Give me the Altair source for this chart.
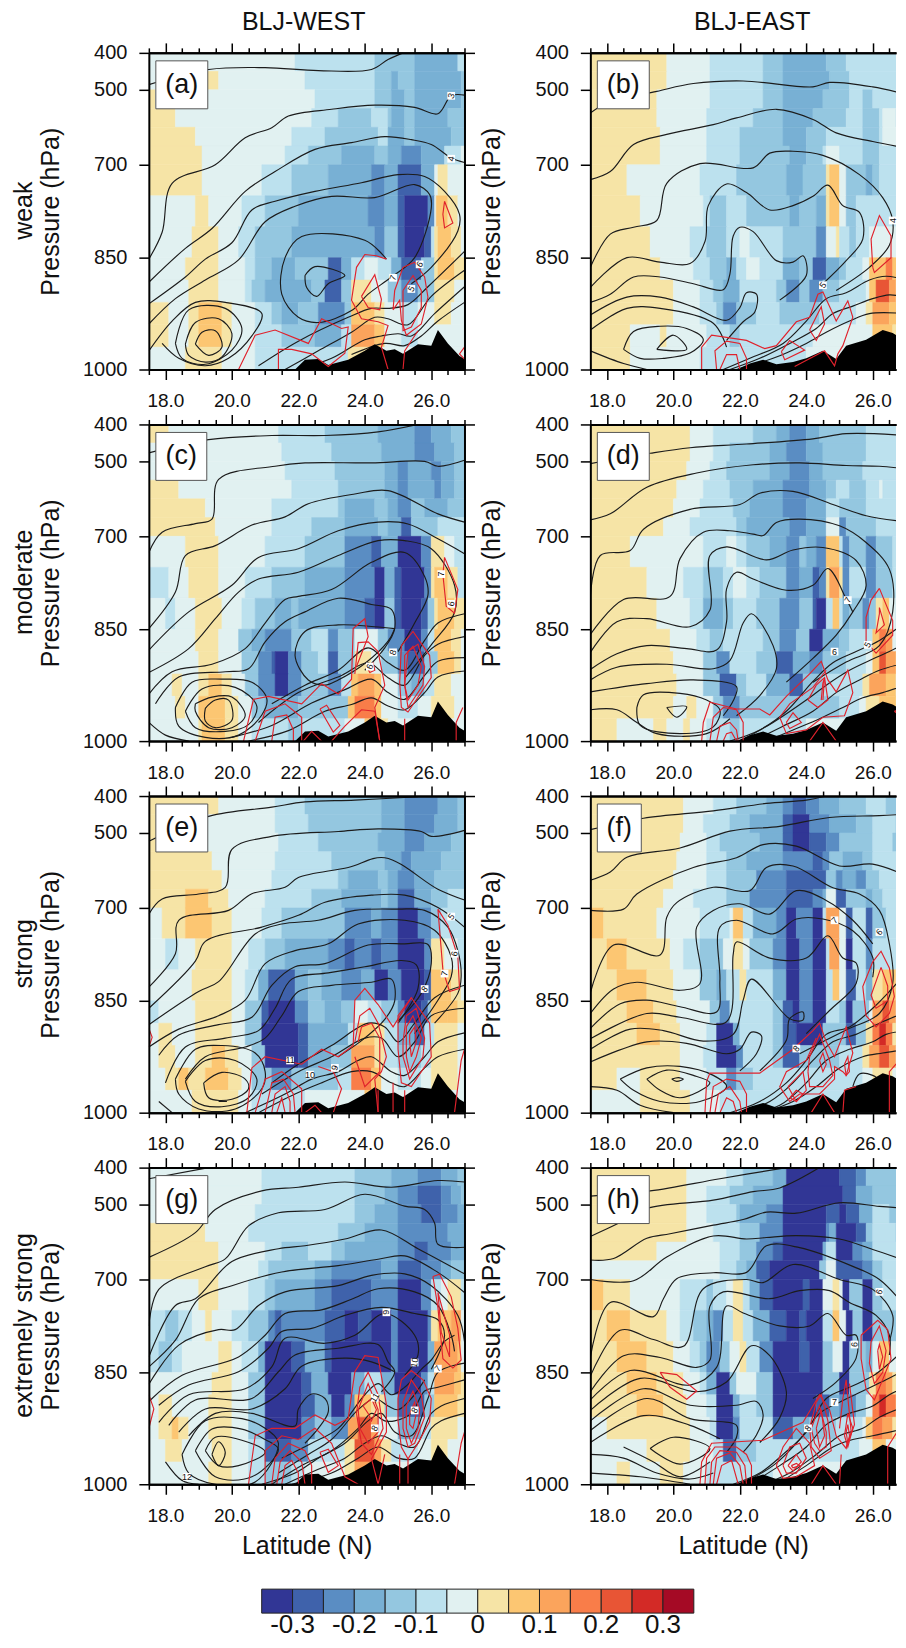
import altair as alt

FONT = "Liberation Sans"
P_EDGES = [400, 450, 500, 550, 600, 650, 700, 750, 800, 850, 880, 910, 940, 970, 1000]
COLORS = ["#313695", "#3f62ab", "#5a8dc3", "#78b0d4", "#94c7e0", "#bce1ee", "#e1f1f1",
          "#f6e4a6", "#fcc672", "#fba45c", "#f97d49", "#e85535", "#d32a26", "#a50a25"]
BINS = list(range(-7, 7))
TICK_P = [400, 500, 700, 850, 1000]
P_PIXELS = [0, 37, 112, 205, 317]
MAJOR = [18, 20, 22, 24, 26]
MINOR = [17.5, 18.5, 19, 19.5, 20.5, 21, 21.5, 22.5, 23, 23.5, 24.5, 25, 25.5, 26.5, 27]
MINOR_E = [17.5, 18.5, 19, 19.5, 20.5, 21, 21.5, 22.5, 23, 23.5, 24.5, 25, 25.5, 26.5]
CB_TICKS = [-0.3, -0.2, -0.1, 0, 0.1, 0.2, 0.3]
CB_LABELS = ["-0.3", "-0.2", "-0.1", "0", "0.1", "0.2", "0.3"]

TERRAIN_W = [21.9,1000,22.2,987,22.6,986,22.9,994,23.5,987,24,975,24.3,966,24.65,975,24.9,973,25.15,979,25.6,966,26,968,26.2,947,26.5,965,26.85,982,27,986]
TERRAIN_E = [21.9,1000,22.3,992,22.7,987,23.1,993,23.6,990,24,985,24.5,975,24.9,986,25.2,968,25.8,960,26.3,947,26.6,951,27,962]

FILL_A = [
[17.5,-1,21.9,-2,24.3,-3,25.5,-4,26.8,-2],
[17.5,-1,19,0,19.6,-1,22.2,-2,24.3,-3,24.8,-4,25,-3,25.5,-4,26.9,-3],
[17.5,0,17.7,-1,22.5,-2,24.3,-3,24.8,-4,25.2,-3,25.5,-4,26.9,-3],
[17.5,0,18.3,-1,22.4,-2,23.2,-3,24.2,-2,24.7,-3,24.8,-4,25.2,-3,25.5,-4,26.5,-3],
[17.5,0,18.9,-1,21.8,-2,22.8,-3,24.4,-2,24.7,-4,25.2,-3,25.5,-4,26.6,-3],
[17.5,0,19.1,-1,21.6,-2,22.3,-3,23.3,-4,24.3,-3,24.7,-4,25.1,-5,25.7,-4,26.4,-2,26.9,-1],
[17.5,0,19.1,-1,20.9,-2,21.8,-3,22.9,-4,24.2,-5,24.6,-4,25,-6,25.7,-4,26.1,-1,26.2,0,26.5,-1],
[17.5,-1,18.9,0,19.3,-1,20.3,-2,21,-3,22,-4,24.1,-5,24.6,-4,25,-6,25.2,-7,25.9,-5,26.1,-1,26.15,1,26.5,0,26.8,-1],
[17.5,-1,18.8,0,19.6,-1,20.2,-2,20.7,-3,21.8,-4,24.3,-5,24.6,-3,25,-6,25.2,-7,25.8,-6,26,-2,26.1,0,26.2,1,26.6,0,26.9,-1],
[17.5,-1,18.6,0,19.6,-1,20.4,-2,20.7,-3,21.2,-4,21.9,-3,22.9,-6,23.3,-4,23.6,-2,24,-1,24.4,-2,24.8,-4,25.1,-6,25.7,-3,26.1,0,26.2,1,26.7,0],
[17.5,-1,18.7,0,19.6,-1,20.4,-2,20.6,-3,21,-4,22.4,-3,22.8,-6,23.3,-3,23.6,0,24.2,-1,24.7,-3,25.1,-5,25.6,-3,26.1,0,26.7,-1],
[17.5,0,18.1,-1,18.7,0,19,1,19.7,0,20,-1,20.7,-2,21.2,-3,21.5,-4,22,-3,22.6,-5,23.4,-3,23.6,1,24.3,0,24.6,-1,25.1,-2,25.6,-1,26.1,0,26.6,-1],
[17.5,0,18.1,-1,18.7,0,19,1,19.7,0,20,-1,20.7,-2,21.5,-3,22.5,-4,23.3,-2,23.6,2,24.3,1,24.6,-1,25.1,-2,25.6,-1,27,-1],
[17.5,-1,18.6,0,19.7,-1,20.7,-2,22.5,-2,23.5,0,24.2,1,24.4,-1,27,-1],
]
FILL_B = [
[17.5,0,19.8,-1,21.1,-2,22.7,-3,23.3,-4,24.6,-3,25.2,-2],
[17.5,0,19.8,-1,21.1,-2,22.7,-3,23.3,-4,24.7,-3,25.3,-2],
[17.5,0,19.5,-1,21.1,-2,22.7,-3,23.3,-4,24.5,-3,25.3,-2,25.7,-3,26,-2],
[17.5,0,19.5,-1,21,-2,22.4,-3,23.3,-4,24.2,-3,25.2,-2,25.7,-3,26.2,-2,26.3,-1,26.7,-2],
[17.5,0,19.6,-1,21,-2,22,-3,23.3,-4,24,-3,24.6,-2,25.7,-3,26.2,-2,26.3,-1,27,-2],
[17.5,0,19.6,-1,21,-2,22,-3,23.5,-4,24,-3,24.5,-2,24.6,-1,25,-2,25.7,-3,26.2,-2],
[17.5,0,18.6,-1,20.8,-2,21.9,-3,23.4,-4,23.9,-3,24.6,0,24.7,1,25,-1,25.2,-3,25.8,-4,26,-3,26.2,-2],
[17.5,0,19,-1,20.9,-2,21.1,-3,21.6,-2,22.2,-3,23.5,-4,23.8,-3,24.3,-4,24.6,0,24.7,1,25,-1,25.2,-3,25.5,-2],
[17.5,0,19.3,-1,20.5,-2,21,-3,21.6,-2,22,-1,22.3,-2,23.3,-3,24.3,-5,24.6,-1,24.9,0,25,-2,25.3,-3,25.5,-2,25.9,-1],
[17.5,0,19.6,-1,20.6,-2,21.1,-3,21.6,-4,21.9,-2,22.2,-1,22.6,-2,23.3,-4,23.8,-3,24.2,-6,24.6,-4,25,-3,25.2,-2,25.7,-1,25.9,1,26.4,3,26.6,1,26.8,-1],
[17.5,0,20,-1,20.8,-2,21.2,-3,21.5,-4,22,-2,23.1,-3,23.4,-5,23.8,-3,24.1,-5,24.5,-3,25,-2,25.8,-1,25.9,1,26.1,4,26.5,2,26.7,0],
[17.5,0,20,-1,20.8,-2,21.3,-3,21.5,-5,21.9,-3,22.5,-2,23.2,-3,24.4,-2,25.5,-1,25.8,0,26,2,26.5,1,26.8,0],
[17.5,0,18.7,-1,19.6,0,19.8,-1,21,-2,21.7,-3,22,-2,24.2,-1,26,1,26.6,0],
[17.5,0,18.7,-1,20.8,-2,22,-2,24,-1,27,-1],
]
FILL_C = [
[17.5,0,18.1,-1,21.4,-2,22.8,-3,24.4,-4,25.5,-5,26,-4,26.6,-3],
[17.5,-1,21.5,-2,23,-3,24.5,-4,25.5,-5,26.1,-4,26.7,-3],
[17.5,-1,21.6,-2,23.1,-3,24.6,-4,25,-5,25.3,-4,26,-5,26.3,-4,26.7,-3],
[17.5,0,18.4,-1,21.8,-2,23.2,-3,24.6,-4,25,-5,25.3,-4,26.1,-5,26.3,-4,26.7,-3],
[17.5,0,19.2,-1,21.2,-2,23.2,-3,23.4,-4,24.3,-3,24.7,-4,25,-5,25.4,-3,25.8,-4,26.5,-3],
[17.5,0,19.5,-1,21.2,-2,22.4,-3,23.4,-4,24.4,-3,24.7,-4,25.1,-6,25.4,-3,26.2,-2],
[17.5,-1,18.6,0,19.6,-1,21,-2,22.2,-3,23.4,-5,24.2,-6,24.5,-4,25,-7,25.7,-5,26,0,26.4,-1,26.7,-2],
[17.5,-2,18.1,-1,18.7,0,19.6,-1,20.4,-2,21.2,-3,22.2,-4,23.4,-5,24.3,-7,24.6,-4,24.9,-6,25.1,-7,25.8,-5,26,0,26.1,1,26.5,0,26.8,-2],
[17.5,-1,18,-2,18.3,-1,18.9,0,19.7,-1,20.3,-2,20.7,-3,21.3,-4,21.8,-3,22,-4,23.4,-5,24,-6,24.3,-7,24.6,-3,24.9,-6,25.1,-7,25.7,-6,25.9,-3,26.1,0,26.2,1,26.7,0],
[17.5,-1,18.9,0,19.6,-1,20.2,-3,20.6,-4,21,-5,21.8,-3,22.4,-2,22.9,-5,23.2,-3,23.7,-1,24.4,-3,24.7,-5,25.2,-7,25.7,-5,25.9,-2,26.1,1,26.6,0,26.9,-1],
[17.5,-1,19,0,19.6,-1,20.3,-3,20.8,-5,21.2,-6,21.3,-7,21.7,-5,22.1,-3,22.6,-2,22.9,-6,23.2,-3,23.7,0,24.2,-1,24.5,-3,25,-5,25.3,-6,25.8,-3,26.2,1,26.7,0,26.9,-1],
[17.5,-1,18.2,0,18.5,-1,19,0,19.3,1,19.7,0,20,-1,20.4,-3,20.8,-5,21.3,-7,21.7,-5,22.1,-3,22.9,-5,23.3,-2,23.6,1,23.8,2,24.3,1,24.5,-1,25,-3,25.4,-4,25.8,-2,26.1,0,26.6,-1],
[17.5,-1,18.3,0,18.6,-1,19,1,19.8,0,20.2,-1,20.6,-3,21,-4,22,-3,23.5,1,23.7,3,24.3,1,24.5,-1,25,-2,25.6,-1,26,0,26.7,-1],
[17.5,-1,19,0,19.1,1,19.8,0,20.2,-1,20.6,-2,21.7,-3,22.1,-2,23.4,-1,24,1,24.4,0,24.7,-1,27,-1],
]
FILL_D = [
[17.5,0,20.5,-1,21.2,-2,22.4,-3,23.1,-4,23.5,-5,24,-4,24.4,-3,25.8,-2],
[17.5,0,20.5,-1,21.2,-2,21.7,-3,22.9,-4,23.4,-5,24,-4,24.5,-3,25.8,-2],
[17.5,0,20.4,-1,21.1,-2,21.6,-3,22.9,-4,23.5,-5,24.1,-4,24.5,-3,25.7,-2],
[17.5,0,20.1,-1,20.9,-2,21.7,-3,22.4,-4,23.3,-5,24.1,-4,24.6,-3,24.9,-2,25.3,-3,25.8,-2,26.2,-1,26.3,-2],
[17.5,0,20,-1,20.8,-2,21.8,-3,22.3,-4,23.3,-5,24,-4,24.6,-2,25,-3,25.8,-2],
[17.5,0,19.7,-1,20.5,-2,21.9,-3,22.2,-4,23.5,-5,24,-4,24.6,-1,25,-5,25.2,-3,26.1,-2],
[17.5,0,18.7,-1,20.9,-2,21.6,-1,21.9,-2,22.2,-3,22.9,-4,23.4,-5,23.8,-3,24,-4,24.3,-5,24.6,1,25,-2,25.1,-5,25.3,-3,25.8,-5,26.1,-3,26.6,-2],
[17.5,0,19.2,-1,20.3,-2,20.9,-3,21.5,-2,21.8,-1,22.2,-2,22.6,-3,23.4,-5,23.8,-4,24.2,-6,24.4,-5,24.6,0,24.7,2,25,0,25.1,-5,25.3,-2,25.8,-5,26.1,-3,26.6,-2],
[17.5,0,19.5,-1,20.5,-2,20.9,-4,21.5,-3,21.8,-2,22.5,-3,23.2,-5,23.8,-3,24.2,-6,24.3,-7,24.6,-2,24.8,1,25,-2,25.1,-4,25.3,-3,25.7,-5,25.9,-3,26.1,0,26.3,1,26.5,-1,26.7,-2],
[17.5,0,19.9,-1,20.7,-2,21.1,-3,21.5,-2,22.7,-3,23.2,-5,23.7,-3,24.1,-7,24.5,-4,25,-3,25.3,-2,26,1,26.2,3,26.4,2,26.6,-1],
[17.5,0,20,-1,20.9,-3,21.3,-5,21.7,-2,22.5,-3,23.1,-6,23.6,-4,24.1,-5,24.5,-3,25.2,-2,25.8,-1,26,1,26.2,4,26.4,2,26.7,0],
[17.5,0,20.1,-1,20.9,-3,21.4,-6,21.9,-3,22.2,-2,22.8,-4,23.5,-6,23.9,-3,24.5,-2,25.7,0,25.9,2,26.4,1,26.7,-1],
[17.5,0,20,-1,20.4,0,20.7,-1,21.2,-3,21.5,-5,22,-3,25,-2,25.6,-1,25.8,0,26.2,1,26.7,0,27,-1],
[17.5,0,18.3,-1,19.4,0,19.8,-1,20.3,0,20.5,-1,21,-2,21.7,-3,22,-2,24,-1,27,-1],
]
FILL_E = [
[17.5,0,19.6,-1,21.3,-2,22.2,-3,24.5,-4,25.2,-5,26.2,-4,26.8,-3],
[17.5,0,18.5,-1,21.3,-2,22.3,-3,24.5,-4,25.2,-5,26.1,-4,26.8,-3],
[17.5,0,18.5,-1,21.4,-2,22.6,-3,24.4,-4,25.2,-5,25.8,-4,26.6,-3],
[17.5,0,19.4,-1,21.3,-2,23,-3,24.6,-4,25.1,-5,25.4,-4,26.3,-3],
[17.5,0,19.7,-1,21.2,-2,23.2,-3,23.5,-4,24.4,-3,24.7,-4,25,-5,25.5,-4,26.1,-3],
[17.5,0,18.6,1,19.3,0,19.9,-1,21,-2,22.4,-3,23.3,-4,24.5,-3,24.7,-4,25,-6,25.5,-4,26,-3,26.5,-2],
[17.5,-1,17.9,0,18.6,1,19.4,0,20,-1,20.9,-2,21.5,-3,23.4,-5,24.2,-4,24.5,-5,25,-7,25.6,-5,26,-3,26.3,-2],
[17.5,-1,18,-2,18.4,-1,18.9,0,20,-1,20.5,-2,21,-3,21.6,-4,22.9,-5,23.4,-6,23.7,-5,24.2,-6,24.5,-5,25,-7,25.8,-5,26,0,26.4,-1,26.8,-2],
[17.5,-1,18.8,0,20,-1,20.4,-2,20.8,-4,21.1,-6,21.9,-4,22.3,-3,22.7,-4,23.3,-5,23.9,-4,24.3,-7,24.7,-5,25.1,-7,25.8,-6,26,1,26.6,0,26.9,-1],
[17.5,-2,17.8,-1,18.9,0,20,-1,20.4,-3,20.9,-6,21.1,-7,21.9,-5,22.3,-3,22.8,-4,23.3,-3,23.7,-1,24.1,-2,24.5,-3,25,-5,25.2,-7,25.7,-6,25.9,-3,26,1,26.5,1,26.8,0],
[17.5,-1,17.8,0,18.2,-1,18.9,0,20,-1,20.4,-3,20.9,-7,22,-6,22.3,-4,23.5,-2,23.8,1,24.3,0,24.6,-2,25,-4,25.5,-6,25.8,-2,26.1,0,26.8,-1],
[17.5,-1,17.8,0,18.3,-1,18.9,0,19.4,1,19.8,0,20.2,-1,20.6,-3,21,-7,22,-6,22.3,-4,23,-3,23.6,2,24.3,0,24.6,-2,25,-3,25.7,-2,26,0,26.8,-1],
[17.5,-1,18,0,18.4,1,18.7,0,19.2,1,19.9,0,20.3,-1,20.6,-3,21.2,-5,21.8,-3,23.2,-2,23.6,3,24.2,1,24.5,-1,25,-2,25.7,-1,26,0,26.8,-1],
[17.5,-1,18.8,0,20.2,-1,20.6,-2,22.2,-1,24,1,24.4,-1,27,-1],
]
FILL_F = [
[17.5,0,20.3,-1,21.2,-2,21.9,-3,22.8,-4,23.3,-5,23.6,-6,24,-5,24.4,-4,25,-3,25.8,-2,26.4,-3],
[17.5,0,20.3,-1,20.9,-2,21.7,-3,22.3,-4,23.3,-6,23.6,-7,24.1,-5,24.7,-4,25.5,-3,26,-2,26.7,-3],
[17.5,0,20.2,-1,21,-2,21.4,-3,22.6,-4,23.3,-6,23.6,-7,24.1,-6,24.6,-5,25,-3,26,-2,26.6,-3],
[17.5,0,20.1,-1,21,-2,21.6,-3,22.2,-4,23.3,-5,24.2,-6,24.5,-5,24.7,-3,25.1,-4,25.7,-3,26,-2],
[17.5,0,20,-1,21,-2,21.6,-3,22.5,-5,23.4,-6,24.6,-3,24.9,-5,25.1,-4,25.5,-5,25.8,-3,26.2,-2],
[17.5,0,19.7,-1,20.6,-2,21.6,-3,22.3,-5,23.4,-6,24.2,-5,24.5,-4,24.6,-1,24.9,-6,25.2,-3,25.8,-4,26,-3,26.3,-2],
[17.5,1,17.9,0,19.5,-1,20.8,-2,21.7,-1,21.8,1,22.1,-2,22.4,-4,23.1,-5,23.4,-7,23.7,-5,24.2,-7,24.5,-2,24.6,2,25,-1,25.2,-6,25.4,-2,25.8,-6,26,-3,26.4,-2],
[17.5,0,18,1,18.6,0,19.9,-1,20.3,-2,20.8,-3,21.5,-1,21.8,0,22.1,-1,22.3,-3,23,-5,23.4,-7,23.8,-5,24.2,-7,24.6,-2,24.7,2,25,-1,25.2,-7,25.4,-2,25.8,-5,26,-2],
[17.5,0,18.3,1,19.2,0,20,-1,20.8,-3,21.3,-4,21.6,-2,22,0,22.2,-2,23,-4,23.4,-7,23.8,-5,24.2,-7,24.6,-2,24.8,1,25,-1,25.2,-6,25.5,-2,25.8,-4,26,0,26.3,1,26.7,-1],
[17.5,0,18.6,1,19.4,0,20.1,-1,21.1,-3,21.4,-5,21.7,-2,23,-3,23.3,-6,23.6,-7,23.8,-5,24.2,-7,24.6,-2,25,-3,25.2,-7,25.4,-3,25.9,-1,26,2,26.3,4,26.5,2,26.7,-1],
[17.5,0,18.9,1,19.6,0,20.2,-1,21,-2,21.3,-7,21.8,-4,22,-2,23,-3,23.3,-6,23.7,-7,24.5,-3,25.2,-6,25.5,-3,25.8,0,26,3,26.2,5,26.4,3,26.6,0,27,-1],
[17.5,0,20.2,-1,20.9,-2,21.3,-7,21.9,-5,22.1,-2,23,-3,23.3,-6,23.8,-3,25,-2,25.7,0,25.9,2,26.2,4,26.5,2,26.7,-1],
[17.5,0,18.3,-1,19,0,20.2,-1,21,-2,21.6,-5,21.9,-3,22.4,-2,25.7,-1,26,0,26.6,-1],
[17.5,-1,19,0,20.5,-1,21.4,-2,22,-2,27,-1],
]
FILL_G = [
[17.5,-1,20.9,-2,23.7,-3,24.8,-4,25.6,-5,26.3,-4,26.8,-3],
[17.5,-1,20.9,-2,23.7,-3,24.6,-4,25,-5,25.6,-6,26.3,-5,26.6,-4,26.9,-3],
[17.5,-1,20.7,-2,23.7,-3,24.3,-4,25,-5,25.7,-6,26.3,-5,26.8,-4],
[17.5,0,19.2,-1,20.5,-2,23.2,-3,24,-4,25,-5,26.5,-4],
[17.5,0,19.6,-1,21,-2,21.5,-3,22.3,-2,23,-3,23.4,-4,25,-5,25.5,-6,25.9,-5,26.6,-4],
[17.5,0,19.6,-1,20.8,-2,21.1,-3,22.5,-4,23,-5,24.5,-4,25,-6,25.7,-5,26.3,-4,26.6,-3],
[17.5,-1,19,0,19.6,-1,20.5,-2,21,-3,21.3,-4,22.5,-5,23,-6,24.2,-5,25,-7,25.7,-5,26,-2,26.3,-1,26.5,0,26.9,-2],
[17.5,-2,18,-3,18.4,-2,18.8,-1,19.2,0,19.4,-1,20,-2,20.5,-3,21.1,-5,21.3,-6,21.5,-5,22.8,-6,23.4,-7,23.8,-6,24.2,-7,24.8,-5,25,-7,25.9,-5,26,0,26.2,1,26.6,2,26.9,-1],
[17.5,-2,17.8,-3,18.2,-2,18.5,-1,19.6,0,20,-1,20.3,-2,20.8,-4,21,-7,21.8,-6,22.2,-4,22.8,-6,23,-7,24.8,-5,25,-7,25.9,-4,26.1,2,26.8,1,26.9,-1],
[17.5,-1,19.4,0,20,-1,20.5,-3,21,-7,22.1,-6,22.4,-4,22.9,-7,23.6,-4,24,-2,24.5,-4,24.9,-7,25.7,-5,25.9,-2,26.1,2,26.7,1,26.9,0],
[17.5,-1,17.8,0,18.2,-1,19.3,0,20,-1,20.5,-3,21,-7,22.1,-6,22.5,-4,23,-7,23.4,-5,23.7,1,24.2,0,24.6,-3,25,-6,25.8,-3,26.1,1,26.8,0],
[17.5,-1,17.8,0,18.2,1,18.4,0,18.7,-1,19.3,0,20,-1,20.5,-3,21,-7,22.1,-5,22.5,-3,23,-5,23.5,2,23.8,4,24.2,2,24.4,-1,25,-4,25.7,-2,26,0,26.8,-1],
[17.5,-1,18,0,18.5,-1,19.4,0,20,-1,20.5,-2,21,-6,21.8,-5,22.3,-2,23.4,0,23.7,4,24.3,2,24.5,0,24.8,-2,25.6,-1,26,0,26.5,-1],
[17.5,-1,19.3,0,20,-1,20.5,-2,21,-3,21.8,-2,22.2,-1,23.4,0,23.7,2,24.3,0,24.5,-1,27,-1],
]
FILL_H = [
[17.5,0,20.4,-1,21.6,-2,22.1,-3,23,-4,23.4,-7,25,-6,25.5,-5,25.8,-3],
[17.5,0,20.4,-1,21,-2,21.7,-3,22.4,-4,23.3,-7,25.1,-6,25.5,-4,26,-3],
[17.5,0,20.4,-1,21,-2,21.9,-3,22,-4,22.8,-5,23.3,-7,24.6,-6,25,-7,25.2,-6,25.6,-4,26,-2,26.5,-3],
[17.5,0,20.4,-1,21.2,-2,22,-3,22.6,-5,23.3,-7,24.6,-5,24.7,-4,24.9,-7,25.5,-6,25.8,-3,26,-2,26.7,-3],
[17.5,0,19.5,-1,21.4,-2,22,-3,22.5,-5,23,-6,23.3,-7,24.5,-4,24.6,-2,24.9,-7,25.4,-5,25.7,-4,26,-2],
[17.5,-1,21.4,-2,21.9,-3,22.2,-4,22.5,-6,22.9,-7,24.4,-3,24.6,-1,24.9,-6,25.7,-5,26,-3,26.3,-2],
[17.5,1,17.9,0,18.7,-1,20.2,-2,21,-3,21.2,-2,21.6,-1,21.8,0,22.1,-2,22.3,-4,22.6,-6,23,-7,23.9,-6,24.1,-7,24.5,-1,24.8,0,25,-1,25.1,-7,25.3,-3,25.7,-7,26,-3,26.3,-2],
[17.5,0,18,1,18.7,0,19.8,-1,20.2,-2,20.6,-3,21,-4,21.2,-5,21.5,-2,21.8,0,22.1,-2,22.4,-4,22.9,-6,23.4,-7,23.8,-6,24,-7,24.5,-2,24.8,1,25,-1,25.2,-7,25.4,-3,25.7,-7,26,-3],
[17.5,0,18.3,1,19.2,0,20,-1,20.5,-2,20.8,-3,21,-5,21.4,-3,21.7,-1,22,0,22.2,-2,22.6,-5,23,-7,23.8,-6,24.1,-7,24.5,-3,24.8,-1,25.1,-7,25.3,-3,25.8,-4,26,-1,26.2,1,26.5,-1],
[17.5,0,18.6,1,19.5,0,20.3,-1,20.8,-2,21,-4,21.3,-7,21.7,-3,21.9,-1,22.5,-3,23,-7,24.5,-3,25,-7,25.3,-3,25.9,0,26.1,3,26.4,2,26.6,0,26.8,-1],
[17.5,0,18.9,1,19.7,0,20.4,-1,21,-2,21.3,-7,21.8,-4,22,-2,22.5,-3,23,-7,24.3,-6,24.7,-4,25,-5,25.5,-3,25.8,-1,26,3,26.2,5,26.4,3,26.7,0],
[17.5,-1,18,0,20.5,-1,21.1,-2,21.3,-7,21.8,-5,22,-2,23,-6,23.6,-4,24.1,-3,24.9,-2,25.7,-1,25.8,1,26,3,26.3,2,26.6,0,27,-1],
[17.5,-1,19.2,0,20.5,-1,21.2,-2,21.5,-6,21.9,-3,22.5,-2,25.6,-1,26,1,26.4,-1],
[17.5,-1,18.3,0,18.7,-1,19.6,0,20.3,-1,21,-2,23,-1,27,-1],
]

LINES_A = [
[17.5,486,19.3,445,21,440,22.6,448,24.2,445,24.7,418,25.15,400],
[27,514,26.6,516,26.2,564,25.5,547,24.3,541,23,552,21.7,570,21.2,601,20.4,628,19.5,700,18.2,730,17.9,809,17.5,852],
[27,694,26.6,682,26,646,25.4,633,24.6,625,23.6,641,22.5,659,21.3,711,20.4,743,19.4,803,18.6,835,17.5,883],
[17.5,912,18.6,876,19.2,852,20,826,20.6,773,21.3,759,22.5,743,23.9,729,25,716,25.8,719,26.4,743,26.85,780,26.8,807,26,863,25.4,885],
[17.5,939,18.3,905,19.2,880,20.2,853,21,792,21.9,767,23,751,24.3,753,25.5,732,25.95,748,26,770,25.5,850,24.8,876,24.1,899,23.6,921,22.6,937,22,930,21.5,899,21.6,850,22.1,816,24,822,24.65,852],
[22.2,874,22.5,862,23.4,874,22.9,885,22.55,902,22.25,890,22.2,874],
[17.5,975,18.2,935,18.9,910,19.8,910,20.9,925,20.6,955,19.9,985,19.2,995,18.4,985,17.9,965],
[18.3,965,18.7,920,19.8,918,20.3,945,20,974,19.2,993,18.5,985,18.3,965],
[18.6,966,18.9,937,19.6,932,20,952,19.7,983,19.2,990,18.7,981,18.6,966],
[18.9,966,19.1,950,19.5,948,19.7,970,19.3,981,18.9,966],
[20.8,995,22,962,23.5,930,24.2,918,24.7,918,25.3,913,25.9,889,27,840],
[21.6,1000,22.6,975,23.6,950,24.3,930,24.7,932,25.3,940,26,902,27,867],
[22,1000,23,985,24,960,24.5,955,25,952,25.4,955,26.1,925,27,889],
[23.6,980,24.6,965,25.2,968,25.7,955,26.2,935,27,910],
]
RED_A = [
[20.2,1000,20.7,954,21.3,947,22.3,965,22.7,932,23.3,945,23.5,943,23.4,978,22.9,996,22.4,979,21.8,973,21.4,973,21.4,1000],
[24.65,852,24.35,847,24,845,23.75,863,23.6,907,23.9,932,24.4,936,24.7,941,24.5,970,24.7,1000],
[23.9,902,24.3,873,24.5,906,24.45,920,24.1,917,23.9,902],
[24.85,920,24.9,894,25.15,863,25.5,856,25.8,876,25.9,903,25.7,939,25.25,954,25.1,934,25.05,907,24.85,920],
[25.15,894,25.45,874,25.7,894,25.7,917,25.4,943,25.15,948,25.15,894],
[25.15,1000,25.2,975,25.6,948],
[26.4,759,26.65,794,26.4,802,26.35,780,26.4,759],
[27,970,26.85,979,27,986],
]
LINES_B = [
[17.5,562,18,535,19.5,504,20.6,483,22.1,476,24.2,492,24.7,480,26,492,27,512],
[17.5,724,18.1,711,18.8,646,19.8,619,21.2,593,21.9,575,23.1,552,24.2,579,24.9,615,26,638,27,655],
[17.5,863,18.1,812,18.8,801,19.5,790,19.8,730,20.8,697,22.4,705,22.9,669,23.6,664,24.5,675,25.6,716,26.3,753,26.6,790,26.5,830,25.9,863,24.9,894],
[17.5,890,18.6,850,19.6,856,20.5,858,20.95,824,21.05,766,21.6,731,22.2,745,22.9,773,23.6,766,24.2,751,24.65,733,25.1,766,25.6,777,25.7,820,25.2,854,24.5,885],
[17.5,910,18.1,899,18.8,876,19.6,876,20.6,885,21.5,893,21.7,872,21.8,815,22,801,22.4,808,23.1,854,23.6,856,23.9,847,24,874,23.2,907],
[17.5,927,18.6,903,19.6,903,20.6,916,21.6,934,22,917,22.2,897,22.5,899,22.45,923,22.1,936,21.6,961],
[17.5,947,18.6,918,19.6,918,21.2,938,21.6,970],
[18.5,973,18.8,949,19.6,942,20.4,945,20.9,960,20.5,978,19.7,985,19,985,18.5,973],
[19.5,973,20,954,20.4,973,19.5,973],
[17.5,975,18.5,992,19.2,1000],
[21.5,1000,22.3,985,23.3,965,24,935,24.6,905,25.2,897,25.9,880,26.4,875,27,880],
[21.7,1000,22.6,985,23.5,965,24.3,945,24.8,925,25.4,915,26,905,26.5,900,27,903],
[21.9,1000,23,985,24,965,24.6,950,25.3,935,25.9,925,27,925],
]
RED_B = [
[20.85,1000,20.85,970,21.15,954,22.2,961,22.75,972,23.1,968,23.7,936,24.1,930,24.35,899,24.5,896,24.9,935,25.25,908,25.4,930,25.1,968,24.95,979,24.85,995,24.55,975,23.65,996],
[21.3,1000,21.25,975,21.6,962,22,965,22.2,985,22.2,1000],
[21.4,1000,21.6,980,21.9,980,22,1000],
[23.25,976,23.5,961,23.95,974,23.35,987,23.25,976],
[24.1,947,24.45,916,24.55,939,24.3,961,24.1,947],
[26,863,25.95,820,26.2,782,26.55,815,26.55,850,26.05,870,26,863],
]
LINES_C = [
[17.5,477,19.3,441,21.2,430,22.8,430,24.4,420,25.6,400],
[27,497,26.2,513,25.8,500,24.2,504,22.2,504,21.3,513,19.6,548,19.4,654,18.9,666,17.9,689,17.5,726],
[27,662,26.2,640,24.7,578,23.7,587,22.3,613,21.6,648,20.6,670,19.5,715,18.6,731,18.3,790,17.5,849],
[27,728,26.2,704,25.3,667,24.4,662,23.2,685,22,720,20.8,734,20,779,18.7,822,17.5,878],
[17.5,908,18.7,876,19.5,833,20.2,790,20.8,769,22,758,23.2,731,24.4,707,25.2,707,26,720,26.7,779,26.7,823,26,871,25.2,916],
[17.5,937,18.2,907,19.4,897,20.4,876,21,840,21.6,802,22,797,23,786,24.2,742,25.2,726,25.8,765,25.9,795,25.5,840,25,880],
[17.7,950,18.4,914,19.8,907,20.5,903,21,867,21.6,838,22.2,822,23.2,800,24.2,810,24.8,818,24.9,849,24.6,875,24,905],
[24.9,849,24.7,866,24,896,23.2,918,22.8,925,22.3,918,21.9,885,22.2,853,23.2,843,24.3,846,24.9,849],
[19.2,956,19.5,945,19.9,945,20,972,19.5,982,19.2,973,19.2,956],
[18.9,950,19.4,941,20,941,20.4,966,20,982,19.3,982,18.9,960,18.9,950],
[18.6,960,19.1,930,20.1,928,20.75,953,20.5,978,19.8,987,18.9,982,18.6,960],
[18.3,955,18.8,921,19.7,917,20.6,921,21.05,943,20.9,965,20.2,992,19.2,995,18.4,980,18.3,955],
[17.5,975,18,992,18.7,1000],
[20.5,1000,21.7,986,22.8,960,23.6,951,24.2,942,24.7,953,25.2,958,25.8,935,26.2,914,27,906],
[20,995,21.2,979,22.4,949,23.4,931,24.2,917,24.7,935,25.2,944,25.8,912,26.2,893,27,888],
[20.8,975,22,935,23.3,912,24.1,895,24.7,915,25.2,925,25.8,885,26.2,870,27,860],
[21.2,950,22.2,925,23.2,905,24.1,875,24.7,895,25.2,905,25.8,865,26.2,840,27,825],
]
RED_C = [
[20.35,1000,20.65,944,21.1,940,22.1,950,22.7,923,23.2,937,23.6,917,23.65,849,24,833,24.1,860,23.75,900],
[23.7,910,23.8,868,24.1,867,24.4,880,24.6,925,24.3,955,24.45,1000],
[24.05,900,24.25,895,24.3,905,24.15,908,24.05,900],
[20.7,1000,21,960,21.6,950,22.1,968,22.1,1000],
[21.2,1000,21.3,968,21.65,965,21.85,985,21.85,1000],
[22.65,957,22.85,952,23.25,979,23.05,988,22.65,957],
[22.15,1000,22.4,987,22.7,1000],
[23,1000,23.4,980,23.9,958,24.3,960,24.45,1000],
[25.05,921,25.1,872,25.45,853,25.95,885,26,915,25.3,961,25.1,955,25.05,921],
[25.2,925,25.3,880,25.6,870,25.8,900,25.75,925,25.3,955,25.2,925],
[25.2,885,25.45,873,25.7,900,25.6,925,25.3,945,25.2,925,25.2,885],
[26.4,734,26.8,786,26.7,824,26.45,813,26.35,762,26.4,734],
[25.2,1000,25.2,970],
[26.75,1000,26.75,975,26.95,955],
]
LINES_D = [
[17.5,506,19.3,478,20.5,463,22.2,453,24.2,439,25.2,425,27,430],
[17.5,656,18.1,640,19.2,569,20.7,531,22.4,509,23.8,504,25.2,511,26.2,513,27,520],
[17.5,797,17.8,731,18.7,723,19.1,681,20.5,628,22,615,22.6,585,23.6,580,24.8,615,25.8,645,27,661],
[17.5,857,18.5,802,19.9,797,20.2,736,20.9,689,21.7,685,22.4,694,22.7,698,23.1,663,23.8,654,25,672,25.8,710,26.5,753,26.6,822,26.2,872,25.2,894,24.2,921],
[17.5,881,18.3,838,19.2,833,20.5,846,21.1,819,21.1,731,21.6,717,22.8,738,23.6,722,24.5,718,25.5,739,25.8,780,25.4,822,24.9,858,24.2,889,23.4,921],
[17.5,904,18.3,883,19.2,872,20.4,876,21.3,878,21.6,838,21.6,785,21.9,758,22.4,769,23.4,787,24.2,779,24.65,752,25.2,801,25.4,822],
[17.5,918,18.3,901,19.8,897,21.2,903,21.7,892,22.1,840,22.35,825,23,872,23.1,903,22.6,939,21.9,966],
[17.5,934,19.2,923,20.6,918,21.9,927,21.8,946,21.5,966],
[18.9,955,19.1,938,20.2,936,21,945,21.4,958,21.2,981,20.2,990,19,979,18.9,955],
[19.8,955,20.4,954,20.1,968,19.8,955],
[17.5,958,18.3,958,18.9,975,19.5,990,21,990,21.7,970],
[21.7,1000,22.6,985,23.4,960,24.2,920,24.8,895,25.5,880,26.2,865,27,838],
[22,1000,23,975,24,945,24.6,925,25.3,905,26,890,26.5,880,27,868],
[22.4,1000,23.3,980,24.2,960,24.9,935,25.6,918,26.2,905,27,895],
[22.8,1000,23.6,985,24.4,970,25.1,955,25.7,942,26.3,935,27,925],
]
RED_D = [
[20.85,1000,20.9,975,21.1,948,21.9,957,22.6,957,22.9,965,23.4,940,24.1,910,24.45,893,24.65,918,24.9,934,25.25,905,25.4,935,25.15,966,24.5,968,24,985,23.4,990,23.2,968,23.5,950,24.2,928,24.6,905],
[21.1,1000,21.2,968,21.5,955,21.9,958,22.1,975,22.1,1000],
[21.3,1000,21.4,980,21.7,975,21.9,985,21.95,1000],
[21.5,1000,21.6,990,21.75,988,21.9,1000],
[23.4,975,23.6,962,23.85,975,23.5,983,23.4,975],
[24.05,945,24.3,925,24.55,915,24.65,945,24.35,955,24.05,945],
[24.45,945,24.5,922,24.55,915,24.5,945],
[24.1,1000,24.5,975,24.9,1000],
[26.2,784,26.6,836,26.6,858,26.1,882,25.8,867,25.8,831,25.95,803,26.2,784],
[26.2,815,26.35,843,26.1,855,26.2,825,26.2,815],
[26.65,960,26.9,955,26.8,965,26.65,960],
]
LINES_E = [
[17.5,522,19.3,455,21.2,430,22.2,416,23.7,411,25.6,402],
[27,493,26,509,25.7,496,24.4,489,23.2,496,21.2,509,20,544,19.8,645,19,663,17.9,676,17.5,710],
[27,679,26.2,650,24.6,566,23.5,592,22,619,21.6,645,20.6,662,19.9,704,18.4,720,18.3,774,17.5,828],
[27,731,26.2,699,25.2,666,24.2,666,22.8,685,22,712,20.9,731,19.2,754,18.9,786,17.5,860],
[17.5,882,19,835,19.6,819,20.7,742,21.5,726,22.6,720,23.7,704,25,702,25.8,704,26.5,731,26.8,769,26.9,811,26.8,838,26.1,880],
[17.5,912,18.4,888,19.6,870,20.4,849,21,790,21.9,769,22.9,758,23.8,726,25.2,720,26.1,736,26.6,779,26.6,811,26.2,849,25.5,894],
[17.8,923,18.4,896,19.6,882,20.6,872,21.2,825,21.9,795,22.8,790,24.1,760,25.2,758,25.9,759,26,790,25.7,838,25,877],
[18,960,18.6,912,19.8,900,20.8,890,21.3,860,21.8,815,22.9,805,24,795,25.1,785,25.55,792,25.6,830,25,880],
[18.6,955,19.2,925,20.4,912,21,900,21.5,870,22,835,23,825,24.2,820,24.8,815,24.9,850,24.6,875,24,900,23.2,925],
[19.15,960,19.7,946,20.4,955,20.5,968,20,982,19.3,980,19.15,960],
[18.6,958,19.2,930,20.1,930,20.75,955,20.5,980,19.7,992,18.9,985,18.6,958],
[18.3,955,18.9,915,19.7,910,20.7,920,21,945,20.9,968,20.1,995,19,995,18.4,975,18.3,955],
[17.8,985,18.2,1000],
[19.6,985,19.85,985],
[20.4,1000,21.6,975,22.4,955,23.2,945,23.8,930,24.2,925,24.8,945,25.2,950,25.8,925,26.2,905,27,893],
[20.8,1000,21.9,975,22.7,960,23.6,945,24.2,945,24.8,960,25.2,965,25.8,940,26.2,925,27,915],
[20.9,975,22,945,23,925,24,900,24.5,900,25,925,25.5,905,26,870,27,860],
[21.2,960,22,935,23,910,24.1,880,24.6,885,25,905,25.5,880,26.1,845,27,825],
]
RED_E = [
[20.45,1000,20.6,940,21,925,22.1,935,22.7,915,23.2,925,23.65,910,23.7,849,24,830,24.4,855,24.85,885,25.4,845],
[23.7,905,23.85,870,24.15,860,24.4,880,24.65,925,24.5,945,24.3,955,24.4,1000],
[23.8,905,23.9,885,24.2,880,24.45,900,24.45,945,24,965,23.7,925],
[20.7,1000,21,955,21.5,945,22.1,968,22.1,1000],
[21,1000,21.2,960,21.55,955,21.85,975,21.9,1000],
[21.2,1000,21.3,975,21.6,965,21.75,985,21.75,1000],
[21.35,1000,21.5,980,21.6,1000],
[22.2,1000,22.5,990,22.7,1000],
[23.05,1000,23.3,968,23.05,945,22.6,938],
[25,915,25,870,25.4,845,25.95,880,26,925,25.4,965,25.1,960,25,915],
[25.15,905,25.25,870,25.55,860,25.8,900,25.75,925,25.35,955,25.15,925,25.15,905],
[25.25,885,25.45,870,25.7,900,25.55,925,25.35,945,25.25,925,25.25,885],
[25.35,895,25.5,885,25.55,905,25.4,925,25.35,905,25.35,895],
[26.2,702,26.5,728,26.8,779,26.85,830,26.55,835,26.35,800,26.2,702],
[17.5,887,17.6,899,17.5,912],
[24.85,1000,24.85,960],
[25.2,1000,25.2,970],
[26.7,1000,26.9,930,27,915],
[24.4,1000,24.4,970],
]
LINES_F = [
[17.5,491,19.1,460,21.2,440,22.8,420,24,411,24.6,400],
[17.5,626,18.1,604,18.6,565,20.2,540,21.7,495,23.2,482,24.7,458,26.2,453,27,449],
[17.5,704,18.5,702,18.9,663,20.6,592,21.9,566,22.7,531,23.7,535,25,588,26,583,27,614],
[17.5,837,18.2,760,19.6,776,19.8,715,20.1,686,21.2,645,22.3,654,22.8,592,23.6,588,24.8,646,25.6,663,26.2,704,26.5,758,26.6,822,26.2,867,25.2,889,23.8,921],
[17.5,867,18.2,831,18.9,820,20.2,833,20.8,822,20.7,731,21.2,704,22,689,22.9,710,23.7,654,24.6,680,25.4,720,26,758],
[17.5,887,18.4,854,19.2,849,20.2,858,21.3,865,21.4,817,21.4,731,21.9,720,23,742,23.7,718,24.5,718,25.4,737,26,780,26,812],
[17.5,901,19.2,867,20.2,872,21.6,878,21.8,775,21.9,755,22.9,781,24,781,24.65,745,25.1,781,25.5,789,25.5,822,24.7,863,24,894],
[17.5,915,18.7,888,19.7,890,20.9,904,21.8,895,22.1,849,22.35,815,23.5,874,23.9,876,23.9,865,23.5,874,23.4,903,22.6,944],
[17.5,932,19.2,905,20.4,907,21.6,921,22,915,22.35,892,22.65,897,22.5,921,22,944],
[18.4,955,19.2,940,20.2,938,21.2,950,21.6,965,20.8,985,19.6,985,18.8,970,18.4,955],
[19.2,955,19.8,943,20.6,950,21.1,960,20.2,980,19.6,970,19.2,955],
[19.95,955,20.15,953,20.3,955,20.1,958,19.95,955],
[17.5,965,18.3,970,19,990,20,1000],
[21.7,1000,22.6,985,23.4,960,24,930,24.6,895,25.3,885,26,860,26.5,835,27,805],
[22,1000,22.9,985,23.6,960,24.2,930,24.8,905,25.5,895,26.2,880,27,865],
[22.3,1000,23.2,990,24,960,24.6,930,25.3,915,26,905,26.4,895,27,890],
[22.7,1000,23.6,985,24.3,965,25,940,25.7,925,26.3,920,27,915],
[25.4,965,25.6,948,26,950,26.3,960],
]
RED_F = [
[20.95,1000,21,958,21.1,947,22.6,947,23.6,915,24.2,890,24.4,880,24.6,905,24.85,925,25.2,885,25.4,920,25.2,950,25.1,945,24.85,938,24.85,955,24.4,975,23.8,975,23.5,985,23.2,965,23.4,945,24,930,24.3,900],
[21.1,1000,21.2,965,21.6,955,22,958,22.2,975,22.2,1000],
[21.25,1000,21.35,975,21.7,965,22,985,22.05,1000],
[21.4,1000,21.6,980,21.8,985,21.9,1000],
[23.45,965,23.9,945,24,970,23.7,985,23.45,965],
[23.5,980,23.7,970,23.9,975,23.7,985,23.5,980],
[24.05,945,24.1,925,24.4,895,24.7,930,24.8,950,24.5,965,24.1,965,24.05,945],
[24.4,930,24.5,920,24.6,935,24.5,945,24.4,930],
[25.15,935,25.25,925,25.3,945,25.2,950,25.15,935],
[24.15,1000,24.5,975,24.85,1000],
[25.1,1000,25.15,970,25.5,965],
[26.5,1000,26.5,945,26.8,930,27,945],
[26,787,26.25,770,26.5,797,26.65,843,26.5,867,26.1,885,25.8,870,25.7,827,26,787],
[26.25,796,26.45,826,26.45,850,26.1,860,25.95,841,26.25,796],
]
LINES_G = [
[17.5,430,19.3,400],
[17.5,641,18.9,575,19.5,513,20.9,463,22,453,23.4,439,24.8,453,26.2,435,27,439],
[17.5,775,17.8,716,19.2,666,19.8,645,20.5,557,21.4,522,22.8,513,24,472,25.2,504,25.8,513,26.1,549,26.2,606,27,614],
[17.5,825,18.3,742,18.9,731,20,652,21.4,618,22.2,610,23.4,592,24.5,568,25.6,618,27,685],
[17.5,841,18.3,798,19,731,20,710,21.5,680,23.2,663,24.4,646,25.2,637,26.2,681,27,721],
[17.5,866,18.4,806,19.6,781,20.1,781,20.8,742,21.6,720,23.2,710,24.2,689,25.2,685,26,710,26.8,758,27,800],
[17.5,889,18.5,854,20.2,825,21,790,21.6,755,22.7,749,23.6,732,24.4,715,25.5,720,26.2,742,26.6,790,26.7,816],
[17.8,894,18.7,867,20.2,849,21.1,811,21.5,784,22.4,779,23.4,758,24.5,745,25.5,755,26.2,765,26.4,790,26,845],
[17.8,917,18.7,880,20.4,872,21.2,841,21.6,795,22.8,803,23.7,790,24.6,755,25.5,790,25.6,822,25.2,854],
[18.1,921,18.9,887,20.6,885,21.4,849,21.9,822,23.2,811,24.4,805,24.7,833,24.9,849,24.5,876],
[18.4,930,19.2,899,20.6,899,21.6,872,22.1,840,23.4,827,24.2,833,24.9,849],
[18.7,935,19.5,905,20.6,905,21.9,922,22,899,22.4,879,22.8,885,22.9,903,22.6,925,22.2,945],
[19.4,960,19.6,943,19.8,957,19.6,975,19.4,960],
[19.2,955,19.5,937,20.3,941,21,957,20.2,975,19.6,975,19.2,955],
[18.9,955,19.4,926,20.3,926,21,940,21.4,953,20.6,990,19.5,990,18.9,955],
[18.5,960,19.2,915,20.3,912,21,925,21.4,945,20.7,997,19.5,1000,18.7,985,18.5,960],
[18,970,18.5,995,19,1000],
[20.9,1000,21.9,985,22.6,965,23.4,945,24.1,915,24.5,905,24.9,930,25.4,935,25.9,885,26.2,850,27,835],
[21.2,1000,22.1,975,23,955,23.8,925,24.2,905,24.6,915,24.9,915,25.4,905,25.8,875,26.2,870,27,860],
[21.4,985,22.3,960,23,940,23.8,900,24.3,885,24.7,895,25,900,25.4,885,25.8,860],
[21.6,1000,22.6,980,23.4,965,24,945,24.5,935,25,945,25.5,950,26,905,26.3,895,27,885],
[21.8,1000,23,985,23.8,965,24.4,950,25,965,25.5,965,26,925,26.3,915,27,905],
[21.5,965,22.4,945,23.2,925,24,880,24.4,865,24.8,880,25.2,870,25.7,845,26,830,26.4,800,26.7,790],
]
RED_G = [
[20.5,1000,20.7,935,21.2,925,21.9,925,22.5,907,23.1,921,23.5,912,23.7,849,24,823,24.4,826,24.65,893,24.65,930,24.2,966,24.4,1000],
[21,1000,21,955,21.5,935,22,940,22.5,925,23,945,23.4,990,23.8,1000],
[21.2,1000,21.3,965,21.7,945,22.2,955,22.4,975,22.4,1000],
[21.35,1000,21.45,970,21.75,955,22.1,970,22.2,1000],
[21.5,1000,21.6,975,21.8,968,22,985,22,1000],
[22.65,957,22.9,953,23.2,975,22.9,984,22.65,957],
[23.75,905,23.85,870,24.1,850,24.4,880,24.55,925,24.2,960,23.9,945,23.75,905],
[23.8,900,24.1,865,24.4,900,24.4,930,24.1,945,23.85,925,23.8,900],
[23.95,895,24.2,885,24.35,900,24.2,915,24.1,905,23.95,895],
[25,885,25.1,860,25.4,847,25.75,860,26,885,25.95,916,25.6,945,25.3,966,25.1,950,25,915,25,885],
[25.15,890,25.4,860,25.7,880,25.8,910,25.5,945,25.3,950,25.15,925,25.15,890],
[25.25,895,25.45,875,25.65,900,25.6,925,25.4,945,25.25,925,25.25,895],
[25.35,905,25.5,890,25.55,905,25.45,925,25.35,920,25.35,905],
[26.05,692,26.25,686,26.6,728,26.8,779,26.9,830,26.65,843,26.35,828,26.2,745,26.05,692],
[26.2,721,26.55,789,26.55,825,26.3,785,26.2,721],
[17.5,880,17.65,899,17.5,925],
[24.4,1000,24.6,960],
[25.05,1000,25.05,960],
[25.3,1000,25.3,965],
[26.7,1000,26.9,945,27,930],
]
LINES_H = [
[17.5,477,19.3,463,21.4,430,23.4,400],
[17.5,585,18.3,552,19.2,510,21.2,488,22.4,465,23.2,455,24.4,400],
[17.5,648,18.2,644,19.2,590,19.9,578,21.2,555,22.1,540,22.8,520,23.7,523,25,495,26.2,505,27,510],
[17.5,700,18.8,702,19.8,640,21.2,584,22.2,592,22.8,588,23.7,583,25,592,26,620,27,650],
[17.5,826,18.1,737,19.4,760,19.7,731,20.1,698,21.2,682,22.2,681,22.8,610,23.8,615,25.4,665,26.2,700,27,745],
[17.5,855,18.4,782,19.4,797,20.3,808,20.9,715,22.2,700,22.7,705,23.6,660,25,700,26,716,26.6,758,26.5,800],
[17.5,876,18.5,823,19.6,826,20.7,842,21.1,830,21.1,743,21.5,720,22.9,731,23.8,718,24.7,718,25.3,737,26.1,758,26.5,790,26.5,822],
[17.5,887,18.7,847,20.5,867,21.3,842,21.6,743,22.1,754,23.2,775,24.1,775,24.65,755,25.2,790,25.5,790,25.5,827,24.9,863,24.2,885],
[17.5,901,19,858,20.7,876,21.6,863,22.35,807,22.9,823,23.4,876,23.2,911,22.6,944],
[17.5,915,19.1,872,20.5,894,21.9,894,22.5,889,22.7,907,22.5,934,22.1,957],
[17.5,928,19.2,885,20.5,912,21.9,921,21.9,937,21.6,957],
[17.5,944,19.1,908,20.5,921,21.4,939],
[18.5,950,19.4,970,20.2,990,21.1,970],
[19.3,952,20,937,21.1,952,20.2,973,19.3,952],
[17.5,960,18.5,965,19.5,985,20.5,993,21.2,985],
[17.5,985,19,990,20.5,1000],
[21.8,1000,22.6,985,23.3,960,24,930,24.6,885,25.3,870,26,855,26.5,835,27,810],
[22,1000,23,975,23.8,940,24.4,905,25,890,25.7,875,26.4,860,27,845],
[22.3,1000,23.2,975,24,950,24.6,920,25.3,905,26,895,26.5,880,27,870],
[22.7,1000,23.5,985,24.3,960,25,935,25.7,925,26.2,910,27,895],
[23.1,1000,24,975,24.8,950,25.4,940,26,935,27,925],
]
RED_H = [
[19.6,850,20.1,853,20.7,875,20.4,886,19.9,870,19.6,850],
[20.8,1000,20.85,970,21.15,945,22.7,941,23.9,917,24.4,880,24.7,900,24.9,935,25.2,952,25.35,930,25.2,860,25.1,885,25,925],
[25.2,950,25.45,920,25.3,865],
[20.95,1000,21,965,21.25,950,21.9,950,22.2,960,22.35,975,22.35,1000],
[21.1,1000,21.15,970,21.4,955,21.9,957,22.15,975,22.2,1000],
[21.2,1000,21.3,965,21.7,958,22,975,22.1,1000],
[21.3,1000,21.45,975,21.75,968,21.95,1000],
[23.1,975,23.3,950,23.7,925,24.1,945,24.25,975,23.7,990,23.3,992,23.1,975],
[23.3,975,23.5,950,23.8,945,24,965,23.7,985,23.4,985,23.3,975],
[23.45,975,23.7,960,23.85,970,23.6,982,23.45,975],
[23.55,975,23.7,972,23.8,975,23.6,978,23.55,975],
[24.1,925,24.3,890,24.45,880,24.65,915,24.75,955,24.4,965,24.15,950,24.1,925],
[24.15,925,24.4,895,24.6,930,24.6,950,24.4,955,24.25,945,24.15,925],
[24.3,925,24.45,900,24.55,935,24.4,950,24.3,925],
[25.15,935,25.25,905,25.4,925,25.25,950,25.15,935],
[25.2,930,25.25,920,25.3,935,25.25,945,25.2,930],
[25.65,790,26.15,766,26.45,781,26.55,828,26.35,854,26.05,887,25.8,873,25.65,828,25.65,790],
[25.95,800,26.2,775,26.4,815,26.3,850,26.05,865,25.9,835,25.95,800],
[26.15,815,26.2,805,26.3,825,26.2,845,26.15,815],
[24.15,1000,24.5,975,24.9,1000],
[25,1000,25.05,960],
[26.45,1000,26.45,950,26.8,925,27,950],
]
LABELS_A = [["3",26.6,516,-70],["4",26.6,684,-80],["7",24.85,877,-70],["6",25.65,859,-55],["5",25.4,892,-60]]
LABELS_B = [["4",26.6,790,-90],["5",24.5,887,-55]]
LABELS_C = [["7",26.3,761,-90],["6",26.6,809,-80],["8",24.85,881,-70],["6",24.15,900,-70]]
LABELS_D = [["7",25.25,803,-60],["6",24.85,880,0],["5",25.85,871,-60]]
LABELS_E = [["5",26.6,714,-50],["6",26.7,774,-80],["7",26.4,806,-75],["8",25.8,831,-50],["11",21.75,930,0],["10",22.35,949,0],["9",23.1,940,-70]]
LABELS_F = [["7",24.85,720,-45],["6",26.2,739,-50],["8",23.7,914,-50]]
LABELS_G = [["9",24.65,753,-90],["10",25.5,834,-80],["7",26.2,844,-50],["12",18.65,990,0],["11",24.3,884,-60],["8",25.5,901,-60],["8",24.3,925,-60]]
LABELS_H = [["6",26.2,720,-70],["6",25.45,805,-85],["7",24.85,890,0],["8",24.05,925,-50]]

SPECS = [
    ["(a)", FILL_A, LINES_A, RED_A, LABELS_A, TERRAIN_W, 52],
    ["(b)", FILL_B, LINES_B, RED_B, LABELS_B, TERRAIN_E, 52],
    ["(c)", FILL_C, LINES_C, RED_C, LABELS_C, TERRAIN_W, 51],
    ["(d)", FILL_D, LINES_D, RED_D, LABELS_D, TERRAIN_E, 52],
    ["(e)", FILL_E, LINES_E, RED_E, LABELS_E, TERRAIN_W, 52],
    ["(f)", FILL_F, LINES_F, RED_F, LABELS_F, TERRAIN_E, 44],
    ["(g)", FILL_G, LINES_G, RED_G, LABELS_G, TERRAIN_W, 52],
    ["(h)", FILL_H, LINES_H, RED_H, LABELS_H, TERRAIN_E, 52],
]
ROW_NAMES = ["weak", "moderate", "strong", "extremely strong"]
COLUMN_TITLES = [("BLJ-WEST", 155), ("BLJ-EAST", 162)]

XS_W = alt.Scale(domain=[17.5, 27], nice=False, zero=False)
XS_E = alt.Scale(domain=[17.5, 26.7], nice=False, zero=False)
YS = alt.Scale(domain=TICK_P, range=P_PIXELS)
CS = alt.Scale(domain=BINS, range=COLORS)


def xaxis(orient, values, size, labels=False, title=None):
    return alt.Axis(orient=orient, values=values, tickSize=size, tickWidth=1.5, domain=True, domainWidth=2,
                    domainColor="#000", tickColor="#000", grid=False, labels=labels, title=title, zindex=1,
                    format=".1f", labelFontSize=19, labelPadding=12, labelColor="#111", labelFlush=False,
                    labelOverlap=False, titleFontSize=25, titleFontWeight="normal", titlePadding=8,
                    titleColor="#111", labelFont=FONT, titleFont=FONT)


def yaxis(orient, labels=False, title=None):
    return alt.Axis(orient=orient, values=TICK_P, tickSize=10, tickWidth=1.5, domain=True, domainWidth=2,
                    domainColor="#000", tickColor="#000", grid=False, labels=labels, title=title, zindex=1,
                    format="d", labelFontSize=20, labelPadding=12, labelColor="#111", labelOverlap=False,
                    labelFlush=False, titleFontSize=25, titleFontWeight="normal", titlePadding=19,
                    titleColor="#111", labelFont=FONT, titleFont=FONT)


def points(groups):
    rows = []
    for g, flat in enumerate(groups):
        for i in range(0, len(flat), 2):
            rows.append({"id": g, "i": i, "lat": flat[i], "p": flat[i + 1]})
    return rows


def cells(bands):
    rows = []
    for b, seg in enumerate(bands):
        for k in range(0, len(seg), 2):
            end = seg[k + 2] if k + 2 < len(seg) else 27
            if end > seg[k]:
                rows.append({"x0": seg[k], "x1": end, "p0": P_EDGES[b], "p1": P_EDGES[b + 1], "n": seg[k + 1]})
    return rows


def panel(idx, spec):
    letter, fill, lines, reds, labels, terrain, boxw = spec
    row = idx // 2
    left = idx % 2 == 0
    bottom = row == 3
    minor = MINOR if left else MINOR_E
    XS = XS_W if left else XS_E
    base_fill = alt.Chart(alt.Data(values=cells(fill))).mark_rect(strokeWidth=0.5, clip=True).encode(
        x=alt.X("x0:Q", scale=XS, axis=xaxis("bottom", MAJOR, 10, True, "Latitude (N)" if bottom else None)),
        x2="x1:Q",
        y=alt.Y("p0:Q", scale=YS, axis=yaxis("left", True, "Pressure (hPa)")),
        y2="p1:Q",
        fill=alt.Fill("n:N", scale=CS, legend=None),
        stroke=alt.Stroke("n:N", scale=CS, legend=None),
    )
    black = alt.Chart(alt.Data(values=points(lines))).mark_line(
        color="#1c1c1c", strokeWidth=1.15, interpolate="catmull-rom", clip=True).encode(
        x=alt.X("lat:Q", scale=XS, axis=xaxis("top", MAJOR, 10)),
        y=alt.Y("p:Q", scale=YS, axis=yaxis("right") if left else None),
        detail="id:N", order="i:Q")
    pts = [{"lat": terrain[i], "p": terrain[i + 1], "base": 1000} for i in range(0, len(terrain), 2)]
    land = alt.Chart(alt.Data(values=pts)).mark_area(color="#000", clip=True).encode(
        x=alt.X("lat:Q", scale=XS, axis=xaxis("top", minor, 5)),
        y=alt.Y("p:Q", scale=YS, axis=None),
        y2="base:Q")
    red = alt.Chart(alt.Data(values=points(reds))).mark_line(
        color="#e0222c", strokeWidth=1.15, interpolate="linear", clip=True).encode(
        x=alt.X("lat:Q", scale=XS, axis=xaxis("bottom", minor, 5)),
        y=alt.Y("p:Q", scale=YS, axis=None),
        detail="id:N", order="i:Q")
    lab_rows = [{"t": l[0], "lat": l[1], "p": l[2], "a": l[3]} for l in labels]
    lab_bg = alt.Chart(alt.Data(values=lab_rows)).mark_square(size=60, color="#fff", opacity=1).encode(
        x=alt.X("lat:Q", scale=XS, axis=None), y=alt.Y("p:Q", scale=YS, axis=None))
    lab_tx = alt.Chart(alt.Data(values=lab_rows)).mark_text(fontSize=9, color="#111", font=FONT).encode(
        x=alt.X("lat:Q", scale=XS, axis=None), y=alt.Y("p:Q", scale=YS, axis=None),
        text="t:N", angle=alt.Angle("a:Q", scale=None))
    box = alt.Chart(alt.Data(values=[{"t": letter}])).mark_rect(fill="#fff", stroke="#555", strokeWidth=1).encode(
        x=alt.value(7), x2=alt.value(7 + boxw), y=alt.value(8), y2=alt.value(56))
    box_t = alt.Chart(alt.Data(values=[{"t": letter}])).mark_text(fontSize=27, font=FONT, color="#111").encode(
        x=alt.value(7 + boxw / 2), y=alt.value(32), text="t:N")
    parts = [base_fill, black, land, red, lab_bg, lab_tx, box, box_t]
    if left:
        parts.append(alt.Chart(alt.Data(values=[{"t": ROW_NAMES[row]}])).mark_text(
            fontSize=25, font=FONT, color="#111", angle=270, baseline="middle", align="center").encode(
            x=alt.value(-125), y=alt.value(158), text="t:N"))
    if row == 0:
        head, cx = COLUMN_TITLES[idx]
        parts.append(alt.Chart(alt.Data(values=[{"t": head}])).mark_text(
            fontSize=25, font=FONT, color="#111", baseline="alphabetic").encode(
            x=alt.value(cx), y=alt.value(-23), text="t:N"))
    layer = alt.layer(*parts).resolve_axis(x="independent", y="independent").properties(
        width=316 if left else 306, height=317)
    return layer


charts = [panel(i, s) for i, s in enumerate(SPECS)]
rows = [alt.hconcat(charts[i], charts[i + 1], spacing=4) for i in range(0, 8, 2)]

CB_SCALE = alt.Scale(domain=[-0.5328, 0.3733], nice=False, zero=False)
cb_rows = [{"x0": n * 0.05, "x1": (n + 1) * 0.05, "n": n} for n in BINS]
cb_bar = alt.Chart(alt.Data(values=cb_rows)).mark_rect(stroke="#222", strokeWidth=1).encode(
    x=alt.X("x0:Q", scale=CB_SCALE, axis=None),
    x2="x1:Q",
    y=alt.value(0),
    y2=alt.value(24),
    fill=alt.Fill("n:N", scale=CS, legend=None),
)
cb_text_rows = [{"v": v, "t": t} for v, t in zip(CB_TICKS, CB_LABELS)]
cb_text = alt.Chart(alt.Data(values=cb_text_rows)).mark_text(
    fontSize=26, font=FONT, color="#111", baseline="alphabetic").encode(
    x=alt.X("v:Q", scale=CB_SCALE, axis=None),
    y=alt.value(43.5),
    text="t:N",
)
colorbar = alt.layer(cb_bar, cb_text).properties(width=560, height=49)

chart = alt.vconcat(alt.vconcat(*rows, spacing=3), colorbar, spacing=30).properties(
    padding={"left": 4, "top": 1, "right": 0, "bottom": 0}
).configure_view(stroke=None)

chart.save("out.html", embed_options={"renderer": "svg", "actions": False})
